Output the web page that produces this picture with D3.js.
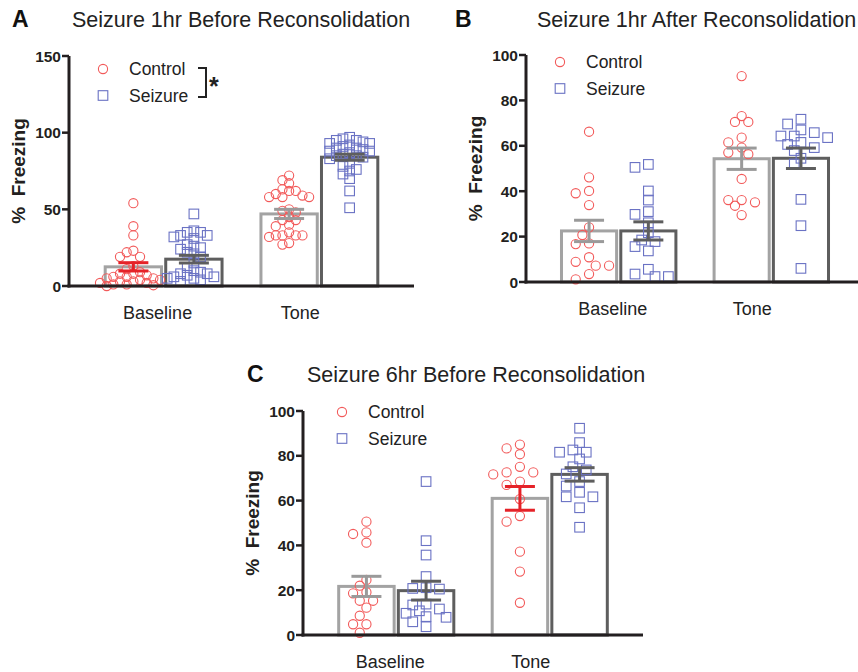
<!DOCTYPE html>
<html>
<head>
<meta charset="utf-8">
<script src="https://cdn.jsdelivr.net/npm/d3@7"></script>
<style>
  body { margin: 0; background: #fff; }
  text { font-family: "Liberation Sans", Arial, sans-serif; }
</style>
</head>
<body>
<svg id="chart" width="858" height="672"></svg>
<script>
var categories = ["Baseline", "Tone"];
var groups = ["Control", "Seizure"];

// panel A - seizure 1hr before reconsolidation
var aBaseControl = [54, 39, 33, 23, 22, 19, 19, 13, 11, 9, 8, 8, 7, 6, 6, 5, 5, 4, 4, 3, 3, 2, 2, 1, 1, 0.5, 0];
var aBaseSeizure = [47, 36, 35, 35, 33, 33, 32, 31, 27, 26, 25, 24, 22, 21, 19, 15, 12, 10, 9, 8, 8, 7, 6, 6, 5, 5, 4, 3];
var aToneControl = [72, 69, 67, 63, 62, 62, 60, 59, 58, 58, 58, 50, 49, 48, 45, 43, 43, 40, 39, 35, 33, 33, 33, 33, 32, 28, 27];
var aToneSeizure = [97, 96, 95, 95, 94, 93, 93, 92, 91, 90, 90, 89, 88, 88, 87, 86, 85, 85, 84, 83, 80, 78, 76, 75, 73, 70, 62, 51];
var aMean = [12.5, 17.5, 47, 84];
var aSem = [2.7, 2.5, 3, 2];

// panel B - seizure 1hr after reconsolidation
var bBaseControl = [66.2, 46.1, 40.1, 39.1, 33.9, 24.1, 20.7, 16.7, 17, 10.9, 8.9, 7.2, 7.2, 3.5, 1.2];
var bBaseSeizure = [51.8, 50.5, 40.1, 36.1, 31, 29.8, 26.1, 21.7, 18.5, 17.8, 15.6, 13.7, 5.6, 3.5, 2.4, 2.4];
var bToneControl = [90.7, 73.1, 70.5, 70.5, 63.6, 61.5, 59.2, 57, 56.3, 45.4, 36.1, 36.1, 35.1, 33.6, 29.5];
var bToneSeizure = [71.7, 69.6, 67, 65.8, 64.3, 64.3, 63.6, 61.5, 60.6, 59.2, 57.9, 54.5, 52, 36.4, 24.8, 6];
var bMean = [22.5, 22.5, 54.3, 54.5];
var bSem = [4.7, 4, 4.7, 4.5];

// panel C - seizure 6hr before reconsolidation
var cBaseControl = [50.6, 45.8, 45.1, 41.2, 24.6, 22, 19.1, 18.6, 15.3, 15.3, 12.2, 8.6, 4.8, 4.8, 1];
var cBaseSeizure = [68.5, 42.1, 35.7, 26.1, 21.1, 20.8, 20.5, 13.8, 13.4, 11.6, 10.8, 9.7, 8.2, 7.9, 5.9, 3.7];
var cToneControl = [85, 83.3, 80.7, 75.1, 72.6, 72.6, 71.7, 68.5, 67, 60.7, 53.1, 50.6, 37.2, 28.3, 14.4];
var cToneSeizure = [92.3, 85.9, 82.6, 81.6, 81.6, 78.6, 75.1, 73.7, 71.9, 68.5, 66.5, 63.7, 61.7, 61.7, 56.8, 48.1];
var cMean = [21.7, 19.8, 61, 71.7];
var cSem = [4.5, 4.2, 5.3, 3];

var yTicksA = [0, 50, 100, 150];
var yTicksBC = [0, 20, 40, 60, 80, 100];

var red = "#f25a5a", blue = "#6a72c4", redBar = "#e52228";
var lightGrey = "#a3a3a3", darkGrey = "#5e5e5e", axisColor = "#231f20";
var labelShift = [-6, -19];

var svg = d3.select("#chart");
svg.append("rect").attr("width", 858).attr("height", 672).attr("fill", "#fff");

function swarm(values, cx, y, r, overlap) {
    var step = r * 1.45;
    var minD = 2 * r * overlap;
    var placed = [];
    var order = values.map(function (v, i) { return i; })
        .sort(function (a, b) { return values[b] - values[a]; });
    order.forEach(function (i) {
        var py = y(values[i]);
        for (var k = 0; k < 60; k++) {
            var off = k == 0 ? 0 : (k % 2 ? -1 : 1) * Math.ceil(k / 2) * step;
            var px = cx + off;
            var hit = placed.some(function (p) {
                var dx = p.x - px, dy = p.y - py;
                return dx * dx + dy * dy < minD * minD;
            });
            if (!hit) { placed.push({x: px, y: py, v: values[i]}); break; }
        }
    });
    return placed;
}

function drawPanel(cfg) {
    var g = svg.append("g");
    var x = d3.scaleBand().domain(categories).range([cfg.x0, cfg.x1])
        .paddingInner(0.215).paddingOuter(0.215);
    var xg = d3.scaleBand().domain(groups).range([0, x.bandwidth()]).padding(0.02);
    var y = d3.scaleLinear().domain([0, cfg.yMax]).range([cfg.yBottom, cfg.yTop]);

    var cells = [];
    categories.forEach(function (c, ci) {
        groups.forEach(function (gr, gi) {
            var k = ci * 2 + gi;
            cells.push({cat: c, group: gr, vals: cfg.points[k], mean: cfg.mean[k], sem: cfg.sem[k], k: k});
        });
    });

    // bars
    g.selectAll("rect.bar").data(cells).enter().append("rect")
        .attr("class", "bar")
        .attr("x", function (d) { return x(d.cat) + xg(d.group) + 1.5; })
        .attr("width", xg.bandwidth() - 3)
        .attr("y", function (d) { return y(d.mean); })
        .attr("height", function (d) { return y(0) - y(d.mean); })
        .attr("fill", "#fff")
        .attr("stroke", function (d) { return d.group == "Control" ? lightGrey : darkGrey; })
        .attr("stroke-width", 3);

    // points
    cells.forEach(function (d) {
        var cx = x(d.cat) + xg(d.group) + xg.bandwidth() / 2;
        var pts = swarm(d.vals, cx, y, 4.6, cfg.overlap);
        if (d.group == "Control") {
            g.selectAll(null).data(pts).enter().append("circle")
                .attr("cx", function (p) { return p.x; })
                .attr("cy", function (p) { return p.y; })
                .attr("r", 4.6)
                .attr("fill", "none").attr("stroke", red).attr("stroke-width", 1.1);
        } else {
            g.selectAll(null).data(pts).enter().append("rect")
                .attr("x", function (p) { return p.x - 4.8; })
                .attr("y", function (p) { return p.y - 4.8; })
                .attr("width", 9.6).attr("height", 9.6)
                .attr("fill", "none").attr("stroke", blue).attr("stroke-width", 1.1);
        }
    });

    // error bars
    cells.forEach(function (d) {
        var cx = x(d.cat) + xg(d.group) + xg.bandwidth() / 2;
        var col = cfg.redErr.indexOf(d.k) >= 0 ? redBar : (d.group == "Control" ? "#9a9a9a" : darkGrey);
        var eb = g.append("g").attr("stroke", col).attr("stroke-width", 3);
        eb.append("line").attr("x1", cx).attr("x2", cx)
            .attr("y1", y(d.mean - d.sem)).attr("y2", y(d.mean + d.sem));
        [d.mean - d.sem, d.mean + d.sem].forEach(function (v) {
            eb.append("line").attr("x1", cx - 15).attr("x2", cx + 15)
                .attr("y1", y(v)).attr("y2", y(v));
        });
    });

    // axes
    g.append("line").attr("x1", cfg.x0).attr("x2", cfg.x0)
        .attr("y1", y(0) + 1.5).attr("y2", y(cfg.yMax))
        .attr("stroke", axisColor).attr("stroke-width", 3);
    g.append("line").attr("x1", cfg.x0 - 1.5).attr("x2", cfg.x1)
        .attr("y1", y(0)).attr("y2", y(0))
        .attr("stroke", axisColor).attr("stroke-width", 3);
    cfg.ticks.forEach(function (t) {
        g.append("line").attr("x1", cfg.x0 - 7).attr("x2", cfg.x0)
            .attr("y1", y(t)).attr("y2", y(t))
            .attr("stroke", axisColor).attr("stroke-width", 2.5);
        g.append("text").attr("x", cfg.x0 - 8).attr("y", y(t)).attr("dy", "0.36em")
            .attr("text-anchor", "end").attr("font-size", 15.5).attr("font-weight", "bold")
            .attr("fill", axisColor).text(t);
    });
    categories.forEach(function (c, i) {
        g.append("text").attr("x", x(c) + x.bandwidth() / 2 + labelShift[i])
            .attr("y", y(0) + 33).attr("text-anchor", "middle")
            .attr("font-size", 18).attr("fill", "#222").text(c);
    });
    g.append("text")
        .attr("transform", "translate(" + (cfg.x0 - 44) + "," + ((y(0) + y(cfg.yMax)) / 2) + ") rotate(-90)")
        .attr("text-anchor", "middle").attr("font-size", 19).attr("font-weight", "bold")
        .attr("fill", axisColor).style("white-space", "pre").text("%  Freezing");

    // titles
    g.append("text").attr("x", cfg.letterX).attr("y", cfg.titleY)
        .attr("font-size", 23).attr("font-weight", "bold").attr("fill", "#111").text(cfg.letter);
    g.append("text").attr("x", cfg.titleX).attr("y", cfg.titleY)
        .attr("font-size", 21.5).attr("fill", "#222").text(cfg.title);

    // legend
    var lg = g.append("g");
    lg.append("circle").attr("cx", cfg.legX).attr("cy", cfg.legY).attr("r", 4.6)
        .attr("fill", "none").attr("stroke", red).attr("stroke-width", 1.1);
    lg.append("rect").attr("x", cfg.legX - 4.8).attr("y", cfg.legY + 26.5 - 4.8)
        .attr("width", 9.6).attr("height", 9.6)
        .attr("fill", "none").attr("stroke", blue).attr("stroke-width", 1.1);
    groups.forEach(function (gr, i) {
        lg.append("text").attr("x", cfg.legX + 26).attr("y", cfg.legY + 26.5 * i + 6)
            .attr("font-size", 17.5).attr("fill", "#222").text(gr);
    });
    if (cfg.star) {
        lg.append("path")
            .attr("d", "M" + (cfg.legX + 95) + "," + (cfg.legY - 1) + "H" + (cfg.legX + 103) +
                "V" + (cfg.legY + 28) + "H" + (cfg.legX + 95))
            .attr("fill", "none").attr("stroke", "#222").attr("stroke-width", 2);
        lg.append("text").attr("x", cfg.legX + 106).attr("y", cfg.legY + 26)
            .attr("font-size", 25).attr("font-weight", "bold").attr("fill", "#222").text("*");
    }
}

drawPanel({
    letter: "A", title: "Seizure 1hr Before Reconsolidation", letterX: 12, titleX: 72, titleY: 27,
    x0: 69, x1: 414, yTop: 56, yBottom: 286, yMax: 150, ticks: yTicksA,
    points: [aBaseControl, aBaseSeizure, aToneControl, aToneSeizure],
    mean: aMean, sem: aSem, redErr: [0], overlap: 0.72,
    legX: 103, legY: 69, star: true
});
drawPanel({
    letter: "B", title: "Seizure 1hr After Reconsolidation", letterX: 455, titleX: 537, titleY: 27,
    x0: 526, x1: 864, yTop: 55, yBottom: 282, yMax: 100, ticks: yTicksBC,
    points: [bBaseControl, bBaseSeizure, bToneControl, bToneSeizure],
    mean: bMean, sem: bSem, redErr: [], overlap: 0.95,
    legX: 560, legY: 62, star: false
});
drawPanel({
    letter: "C", title: "Seizure 6hr Before Reconsolidation", letterX: 247, titleX: 307, titleY: 382,
    x0: 303, x1: 643, yTop: 411, yBottom: 635, yMax: 100, ticks: yTicksBC,
    points: [cBaseControl, cBaseSeizure, cToneControl, cToneSeizure],
    mean: cMean, sem: cSem, redErr: [2], overlap: 0.95,
    legX: 342, legY: 412, star: false
});
</script>
</body>
</html>
